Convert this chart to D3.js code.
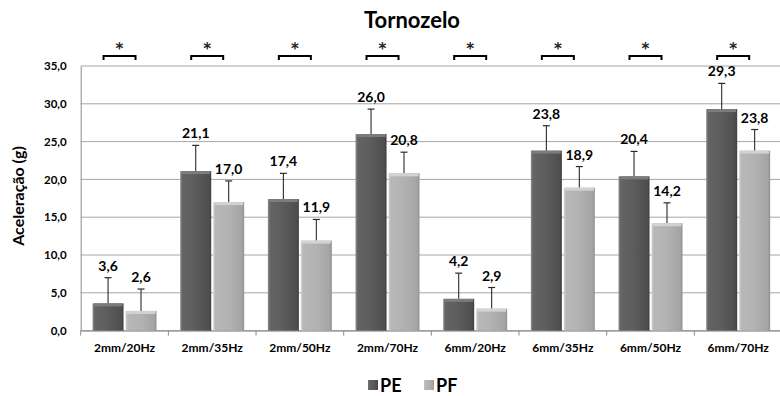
<!DOCTYPE html>
<html><head><meta charset="utf-8">
<script src="https://cdn.jsdelivr.net/npm/d3@7"></script>
<style>
body{margin:0;background:#fff;}
text{font-family:Lato,"Open Sans",sans-serif;font-weight:bold;fill:#000;}
</style></head>
<body><svg id="c" width="780" height="396"></svg>
<script>
const categories = ["2mm/20Hz","2mm/35Hz","2mm/50Hz","2mm/70Hz","6mm/20Hz","6mm/35Hz","6mm/50Hz","6mm/70Hz"];
const seriesNames = ["PE","PF"];
const peValues = [3.6,21.1,17.4,26.0,4.2,23.8,20.4,29.3];
const pfValues = [2.6,17.0,11.9,20.8,2.9,18.9,14.2,23.8];
const peErrors = [3.4,3.4,3.4,3.3,3.4,3.3,3.3,3.4];
const pfErrors = [2.9,2.8,2.8,2.8,2.8,2.8,2.7,2.8];
const yTicks = [0,5,10,15,20,25,30,35];
const sigMarks = ["*","*","*","*","*","*","*","*"];

const svg = d3.select("#c");
const M = {left:80.7, right:782, top:66, bottom:330.6};
const x = d3.scaleBand().domain(categories).range([M.left, M.right]).paddingInner(0).paddingOuter(0);
const y = d3.scaleLinear().domain([0,35]).range([M.bottom, M.top]);
const x1 = d3.scaleBand().domain(seriesNames).range([0, x.bandwidth()]).paddingInner(0.06).paddingOuter(0.36);
const fmt = v => d3.format(".1f")(v).replace(".", ",");

const defs = svg.append("defs");
function grad(id, stops){
  const g = defs.append("linearGradient").attr("id", id).attr("x1","0").attr("x2","1").attr("y1","0").attr("y2","0");
  stops.forEach(s => g.append("stop").attr("offset", s[0]).attr("stop-color", s[1]));
}
grad("gPE", [["0%","#8c8c8c"],["7%","#646464"],["50%","#5c5c5c"],["93%","#4e4e4e"],["100%","#3e3e3e"]]);
grad("gPF", [["0%","#d6d6d6"],["7%","#b8b8b8"],["50%","#b2b2b2"],["93%","#a4a4a4"],["100%","#8e8e8e"]]);
const topCol = {PE:"#7c7c7c", PF:"#d2d2d2"};

// gridlines
svg.append("g").selectAll("line").data(yTicks).join("line")
  .attr("x1", M.left).attr("x2", M.right)
  .attr("y1", d => y(d)).attr("y2", d => y(d))
  .attr("stroke", "#a6a6a6").attr("stroke-width", 1);

// y axis
const yAxis = svg.append("g").attr("transform", `translate(${M.left},0)`)
  .call(d3.axisLeft(y).tickValues(yTicks).tickFormat(fmt).tickSize(0).tickPadding(14));
yAxis.select(".domain").attr("stroke", "#8c8c8c");
yAxis.selectAll("text").style("font-size","11.5px").style("font-family","Lato").style("font-weight","bold").attr("fill","#000");

// x axis
const xAxis = svg.append("g").attr("transform", `translate(0,${M.bottom})`)
  .call(d3.axisBottom(x).tickSize(0).tickPadding(13));
xAxis.select(".domain").attr("stroke", "#8c8c8c");
xAxis.selectAll("text").style("font-size","12px").style("font-family","Lato").style("font-weight","bold").attr("fill","#000");
svg.append("g").selectAll("line").data(d3.range(categories.length+1)).join("line")
  .attr("x1", i => M.left + i*x.bandwidth()).attr("x2", i => M.left + i*x.bandwidth())
  .attr("y1", M.bottom).attr("y2", M.bottom+5).attr("stroke","#8c8c8c");

// data rows
const rows = categories.map((c,i) => ({cat:c, sig:sigMarks[i], bars:[
  {s:"PE", v:peValues[i], e:peErrors[i]},
  {s:"PF", v:pfValues[i], e:pfErrors[i]}]}));

const groups = svg.append("g").selectAll("g").data(rows).join("g")
  .attr("transform", d => `translate(${x(d.cat)},0)`);

const bar = groups.selectAll("g.bar").data(d => d.bars).join("g").attr("class","bar");
// error bars
bar.append("line")
  .attr("x1", d => x1(d.s)+x1.bandwidth()/2).attr("x2", d => x1(d.s)+x1.bandwidth()/2)
  .attr("y1", d => y(d.v)).attr("y2", d => y(d.v+d.e)).attr("stroke","#2a2a2a").attr("stroke-width",1.1);
bar.append("line")
  .attr("x1", d => x1(d.s)+x1.bandwidth()/2-3.5).attr("x2", d => x1(d.s)+x1.bandwidth()/2+3.5)
  .attr("y1", d => y(d.v+d.e)).attr("y2", d => y(d.v+d.e)).attr("stroke","#2a2a2a").attr("stroke-width",1.2);
bar.append("rect")
  .attr("x", d => x1(d.s)).attr("width", x1.bandwidth())
  .attr("y", d => y(d.v)).attr("height", d => y(0)-y(d.v))
  .attr("fill", d => `url(#g${d.s})`);
bar.append("rect")
  .attr("x", d => x1(d.s)+1).attr("width", x1.bandwidth()-2)
  .attr("y", d => y(d.v)).attr("height", 3)
  .attr("fill", d => topCol[d.s]);
bar.append("text")
  .attr("x", d => x1(d.s)+x1.bandwidth()/2).attr("y", d => y(d.v+d.e)-7)
  .attr("text-anchor","middle").style("font-size","14px").text(d => fmt(d.v));

// significance brackets
const sig = groups.append("g").attr("transform", `translate(${x.bandwidth()/2-5},0)`);
sig.append("path").attr("d", "M-16,60V56H16V60").attr("fill","none").attr("stroke","#000").attr("stroke-width",2);
sig.append("text").attr("x",0).attr("y",54).attr("text-anchor","middle")
  .style("font-family","'DejaVu Sans'").style("font-size","15px").style("fill","#222").text(d => d.sig);

// title
svg.append("text").attr("x",412).attr("y",28).attr("text-anchor","middle").style("font-size","22px").text("Tornozelo");
// y title
svg.append("text").attr("transform","translate(24,196) rotate(-90)").attr("text-anchor","middle").style("font-size","16px").text("Aceleração (g)");

// legend
const leg = svg.append("g").selectAll("g").data(seriesNames).join("g")
  .attr("transform", (d,i) => `translate(${368+i*56},380)`);
leg.append("rect").attr("width",10).attr("height",10).attr("fill", d => `url(#g${d})`);
leg.append("text").attr("x",12).attr("y",11.5).style("font-size","18px").text(d => d);
</script></body></html>
